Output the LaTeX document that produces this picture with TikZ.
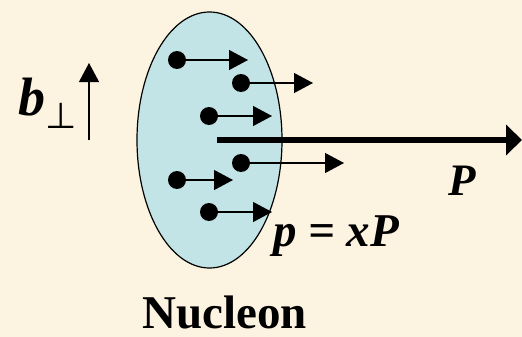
\documentclass[tikz,border=0pt]{standalone}
\usepackage{fontspec}
\setmainfont{Liberation Serif}
\newfontfamily\perpfont{DejaVu Sans}
\usetikzlibrary{arrows.meta,positioning,shapes.geometric}
\definecolor{paper}{HTML}{FDF3E1}
\definecolor{nucfill}{HTML}{C3E4E6}
\definecolor{ink}{HTML}{000000}
\tikzset{
  nucleon/.style={ellipse,draw=ink,line width=1.2pt,fill=nucfill,
                  minimum width=145pt,minimum height=256pt,inner sep=0pt},
  parton/.style ={circle,fill=ink,minimum size=18pt,inner sep=0pt},
  pflow/.style  ={-{Triangle[length=19pt,width=20pt]},line width=1.2pt,draw=ink},
  bigflow/.style={-{Triangle[length=16pt,width=30pt]},line width=6pt,draw=ink},
  lbl/.style    ={inner sep=0pt,anchor=base west,text=ink}
}
\begin{document}
\begin{tikzpicture}[x=1pt,y=-1pt]
  \fill[paper] (0,0) rectangle (522,337);
  \useasboundingbox (0,0) rectangle (522,337);
  \node[nucleon] (nuc) at (209.5,140) {};
  % partons and their momenta
  \node[parton] (q1) at (177,60)  {};
  \node[parton] (q2) at (241,83)  {};
  \node[parton] (q3) at (209,116) {};
  \node[parton] (q4) at (241,163) {};
  \node[parton] (q5) at (177,180) {};
  \node[parton] (q6) at (209,212) {};
  \coordinate (t1) at (248,60);
  \coordinate (t2) at (313,83);
  \coordinate (t3) at (272,116);
  \coordinate (t4) at (344,163);
  \coordinate (t5) at (233,180);
  \coordinate (t6) at (272,212);
  \foreach \i in {1,...,6}
    \draw[pflow] (q\i.center) -- (t\i);
  % total momentum
  \coordinate (pstart) at (217,140);
  \coordinate (pend) at (522,140);
  \draw[bigflow] (pstart) -- (pend);
  % transverse direction
  \coordinate (bfoot) at (89,140);
  \coordinate (btip) at (89,63);
  \draw[pflow] (bfoot) -- (btip);
  \node[lbl,font=\fontsize{54}{54}\selectfont\bfseries\itshape] (blab) at (18,115)
    {b\raisebox{-13pt}{\fontsize{36}{36}\selectfont\perpfont\mdseries\upshape ⊥}};
  \node[lbl,font=\fontsize{45}{45}\selectfont\bfseries\itshape] (plab) at (448,195) {P};
  \node[lbl,font=\fontsize{47}{47}\selectfont\bfseries\itshape] (xlab) at (273,246) {p = xP};
  \node[lbl,font=\fontsize{47}{47}\selectfont\bfseries] (nlab) at (142,328) {Nucleon};
\end{tikzpicture}
\end{document}
